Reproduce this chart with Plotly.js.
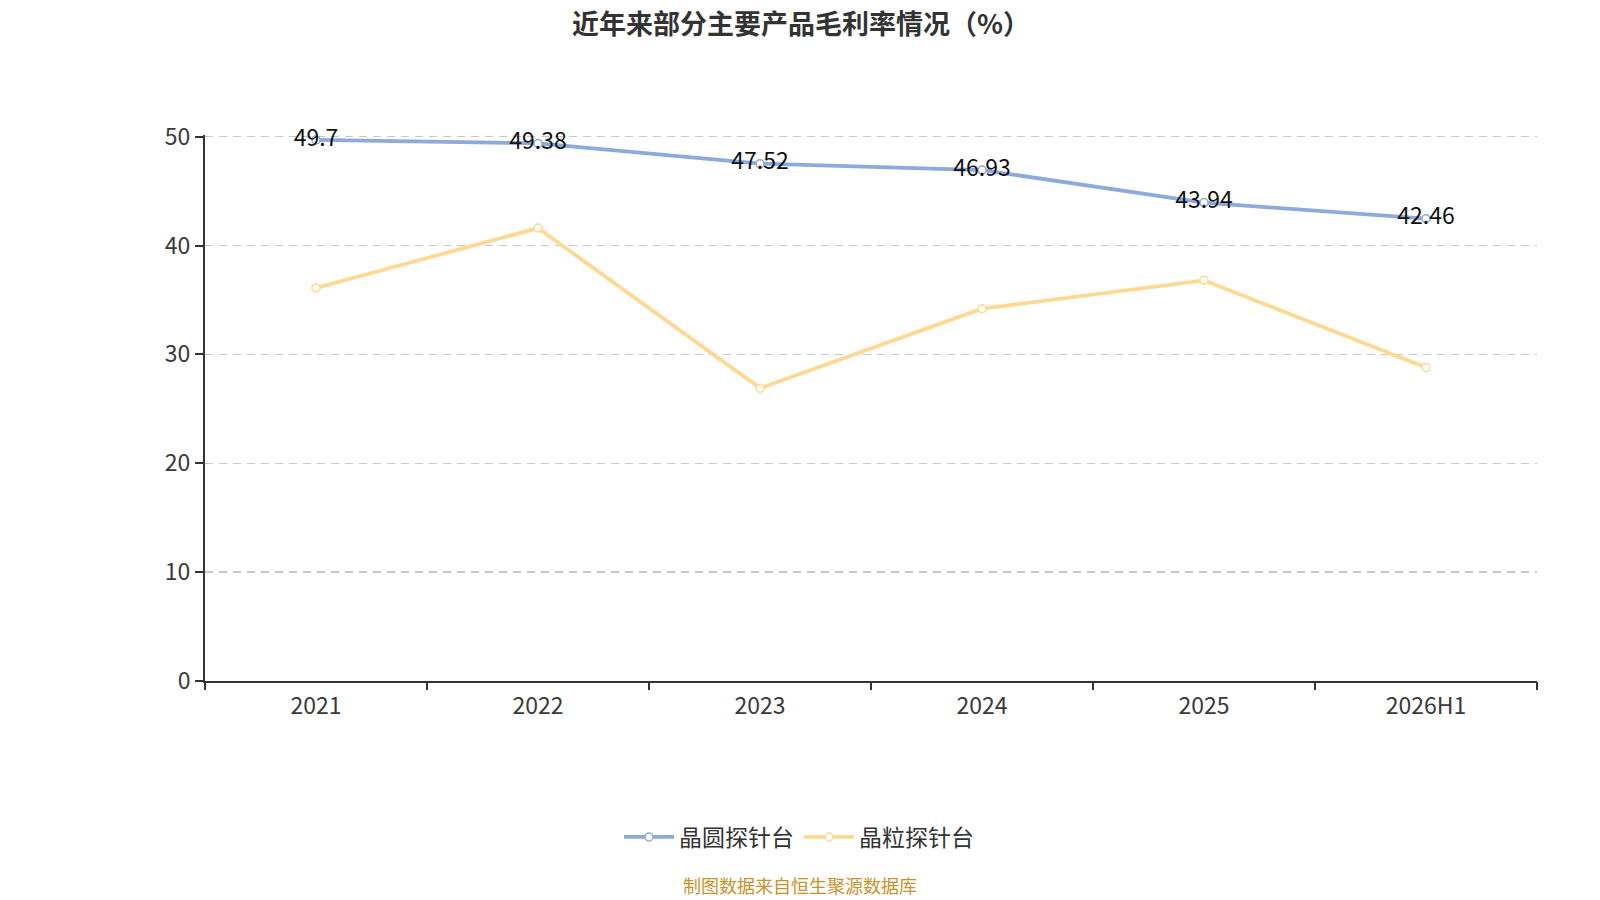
<!DOCTYPE html>
<html>
<head>
<meta charset="utf-8">
<script src="https://cdn.plot.ly/plotly-3.0.1.min.js"></script>
<style>html,body{margin:0;padding:0;background:#fff;}#chart{width:1600px;height:900px;}</style>
</head>
<body>
<div id="chart"></div>
<script>
const categories = ['2021', '2022', '2023', '2024', '2025', '2026H1'];
const waferProbe = [49.7, 49.38, 47.52, 46.93, 43.94, 42.46];
const grainProbe = [36.1, 41.6, 26.9, 34.2, 36.8, 28.8];
const seriesNames = ['晶圆探针台', '晶粒探针台'];
const yTicks = [0, 10, 20, 30, 40, 50];

const FONT = '"Noto Sans CJK SC", "Noto Sans", sans-serif';
const BLUE = '#8CAADB';
const YELLOW = '#FFD892';

const L = 205, R = 1537, T = 135, B = 681;
const PW = R - L, PH = B - T;
const px = v => (v - L) / PW;
const py = v => (B - v) / PH;

const boundaries = categories.map((c, i) => i - 0.5).concat([categories.length - 0.5]);

const traces = [
  {
    x: categories, y: waferProbe, name: seriesNames[0], type: 'scatter', mode: 'lines+markers+text',
    line: {color: BLUE, width: 3.8},
    marker: {symbol: 'circle', size: 8, color: '#ffffff', line: {color: BLUE, width: 1.5}},
    text: waferProbe.map(String), textposition: 'middle center',
    textfont: {family: FONT, size: 23, color: '#111111'},
    cliponaxis: false
  },
  {
    x: categories, y: grainProbe, name: seriesNames[1], type: 'scatter', mode: 'lines+markers',
    line: {color: YELLOW, width: 3.8},
    marker: {symbol: 'circle', size: 8, color: '#ffffff', line: {color: YELLOW, width: 1.5}},
    cliponaxis: false
  },
  {
    x: [], y: [], xaxis: 'x2', yaxis: 'y', type: 'scatter', mode: 'none',
    showlegend: false, hoverinfo: 'skip'
  }
];

const layout = {
  width: 1600, height: 900,
  margin: {l: L, r: 1600 - R, t: T, b: 900 - B},
  paper_bgcolor: '#ffffff', plot_bgcolor: '#ffffff',
  font: {family: FONT, color: '#333333'},
  showlegend: true,
  legend: {
    orientation: 'h', x: px(799), xanchor: 'center', y: -(837 - B) / PH, yanchor: 'middle',
    font: {family: FONT, size: 23, color: '#333333'},
    itemwidth: 50
  },
  xaxis: {
    type: 'category', range: [-0.5, categories.length - 0.5],
    showgrid: false, zeroline: false,
    showline: true, linecolor: '#333333', linewidth: 2,
    ticks: '', ticklabelstandoff: 3,
    tickfont: {family: FONT, size: 23, color: '#3a3a3a'},
    fixedrange: true
  },
  xaxis2: {
    overlaying: 'x', anchor: 'y', side: 'bottom', type: 'linear',
    range: [-0.5, categories.length - 0.5],
    tickmode: 'array', tickvals: boundaries, showticklabels: false,
    showgrid: false, zeroline: false, showline: false,
    ticks: 'outside', ticklen: 8, tickwidth: 2, tickcolor: '#333333',
    fixedrange: true
  },
  yaxis: {
    range: [0, 50.15], tickvals: yTicks, ticktext: yTicks.map(String),
    showgrid: true, gridcolor: '#c8c8c8', griddash: '8px,6px', gridwidth: 1.5,
    zeroline: false, showline: true, linecolor: '#333333', linewidth: 2,
    ticks: 'outside', ticklen: 8, tickwidth: 2, tickcolor: '#333333',
    tickfont: {family: FONT, size: 23, color: '#3a3a3a'},
    fixedrange: true
  },
  annotations: [
    {
      text: '<b>近年来部分主要产品毛利率情况（%）</b>', xref: 'paper', yref: 'paper',
      x: px(801), y: py(22), xanchor: 'center', yanchor: 'middle',
      showarrow: false, font: {family: FONT, size: 27, color: '#333333'}
    },
    {
      text: '制图数据来自恒生聚源数据库', xref: 'paper', yref: 'paper',
      x: px(800), y: py(885), xanchor: 'center', yanchor: 'middle',
      showarrow: false, font: {family: FONT, size: 18, color: '#C8922B'}
    }
  ]
};

Plotly.newPlot('chart', traces, layout, {displayModeBar: false, staticPlot: true});
</script>
</body>
</html>
